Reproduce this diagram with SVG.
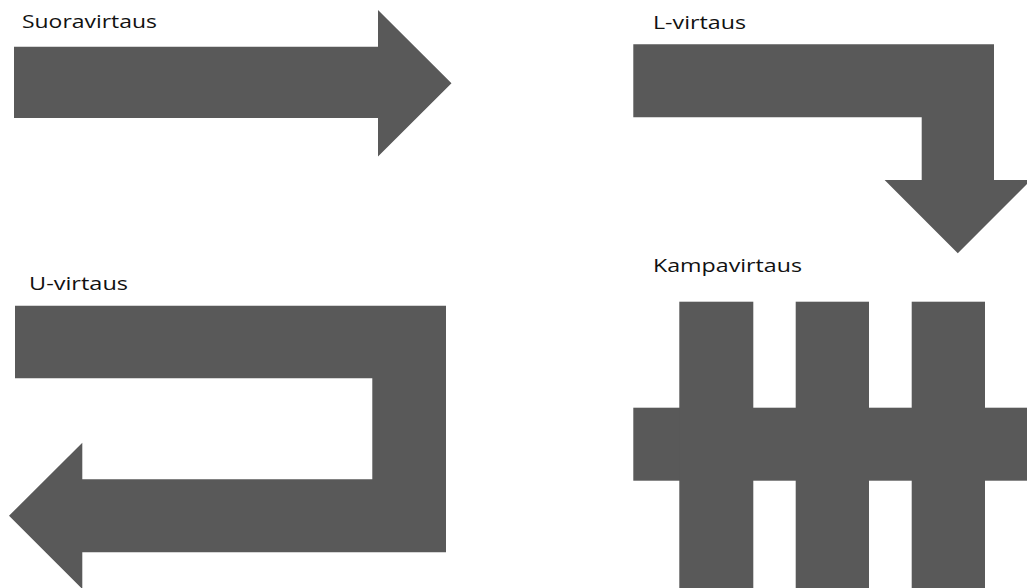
<svg xmlns="http://www.w3.org/2000/svg" width="1027" height="588" viewBox="0 0 1027 588">
<style>
.shape{fill:#595959;}
.lbl{font-family:"Open Sans","Liberation Sans",sans-serif;font-size:19px;fill:#111;}
</style>
<rect width="1027" height="588" fill="#fff"/>
<g id="suoravirtaus">
<text class="lbl" x="22" y="28" textLength="135" lengthAdjust="spacingAndGlyphs">Suoravirtaus</text>
<polygon class="shape" points="14,46.7 378,46.7 378,10 451.5,83.3 378,156.6 378,118 14,118"/>
</g>
<g id="l-virtaus">
<text class="lbl" x="653" y="29" textLength="93" lengthAdjust="spacingAndGlyphs">L-virtaus</text>
<polygon class="shape" points="633.3,44.3 994,44.3 994,180 1031,180 957.8,253.3 884.6,180 921.7,180 921.7,117.3 633.3,117.3"/>
</g>
<g id="u-virtaus">
<text class="lbl" x="29" y="290" textLength="99" lengthAdjust="spacingAndGlyphs">U-virtaus</text>
<polygon class="shape" points="15,305.7 446,305.7 446,552.3 82.3,552.3 82.3,589 9,515.8 82.3,442.7 82.3,479.3 372.3,479.3 372.3,378.3 15,378.3"/>
</g>
<g id="kampavirtaus">
<text class="lbl" x="653" y="272" textLength="149" lengthAdjust="spacingAndGlyphs">Kampavirtaus</text>
<rect class="shape" x="633.3" y="407.7" width="394" height="73"/>
<rect class="shape" x="679.3" y="301.7" width="74" height="287"/>
<rect class="shape" x="795.7" y="301.7" width="73.3" height="287"/>
<rect class="shape" x="911.7" y="301.7" width="73.3" height="287"/>
</g>
<g id="connectors"></g>
</svg>
